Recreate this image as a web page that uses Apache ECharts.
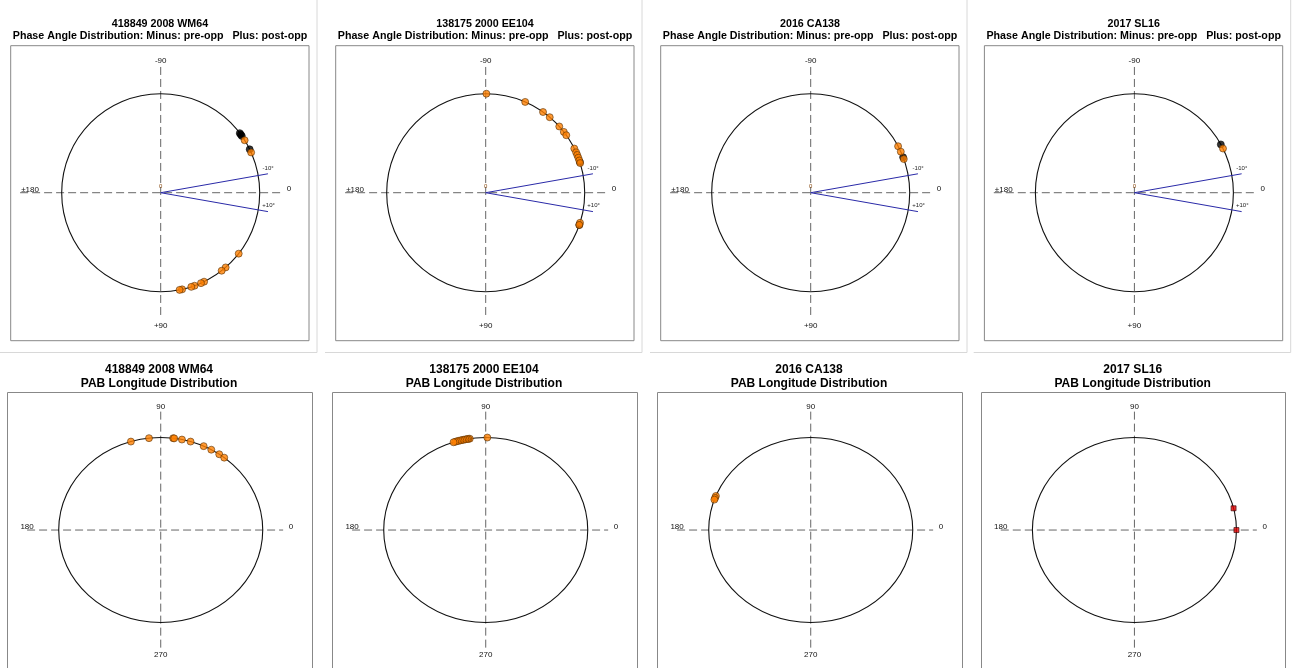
<!DOCTYPE html>
<html>
<head>
<meta charset="utf-8">
<script src="https://cdn.jsdelivr.net/npm/echarts@6/dist/echarts.min.js"></script>
<style>
  html, body { margin: 0; padding: 0; background: #fff; }
  #chart { width: 1301px; height: 668px; }
</style>
</head>
<body>
<div id="chart"></div>
<script>
// Objects shown, one column each
const objects = ['418849 2008 WM64', '138175 2000 EE104', '2016 CA138', '2017 SL16'];

// Phase angle (deg): minus = pre-opposition, plus = post-opposition
const phaseBlack_WM64  = [-35, -36, -37, -26];
const phaseOrange_WM64 = [-32, -24, 38, 49, 52, 64, 66, 70, 72, 77.5, 79];
const phaseBlack_EE104  = [-18, 19];
const phaseOrange_EE104 = [-89.6, -66.5, -54.6, -49.7, -42, -37.9, -35.5, -26.5, -24.1, -22.4, -20.7, -19, -17.4, 17.7, 19];
const phaseBlack_CA138  = [-21];
const phaseOrange_CA138 = [-28, -24.5, -19.9];
const phaseBlack_SL16  = [-29.2];
const phaseOrange_SL16 = [-26.5];

// PAB longitude (deg)
const pabOrange_WM64  = [107, 96.6, 83, 82.4, 78, 73, 65.1, 60.3, 55, 51.5];
const pabOrange_EE104 = [89.1, 99, 99.8, 100.6, 101.5, 102.5, 103.4, 104.4, 105.4, 106.4, 107.4, 108.4];
const pabOrange_CA138 = [158.4, 159.7, 160.8];
const pabRed_SL16     = [13.6, 0];

// Axis tick labels
const phaseTicks = { top: '-90', bottom: '+90', left: '\u00b1180', right: '0' };
const pabTicks   = { top: '90', bottom: '270', left: '180', right: '0' };

const phaseBlack  = [phaseBlack_WM64, phaseBlack_EE104, phaseBlack_CA138, phaseBlack_SL16];
const phaseOrange = [phaseOrange_WM64, phaseOrange_EE104, phaseOrange_CA138, phaseOrange_SL16];
const pabOrange   = [pabOrange_WM64, pabOrange_EE104, pabOrange_CA138, []];
const pabRed      = [[], [], [], pabRed_SL16];

const D2R = Math.PI / 180;
// Phase: 0 on the right, positive angles go clockwise (downwards)
const phaseXY = a => [Math.cos(a * D2R), -Math.sin(a * D2R)];
// PAB longitude: 0 on the right, counter-clockwise
const pabXY = a => [Math.cos(a * D2R), Math.sin(a * D2R)];

const FONT = '"Liberation Sans", Arial, sans-serif';
const colX = [0, 325, 650, 973.7];

const grids = [], xAxes = [], yAxes = [], series = [], graphics = [];

function txt(api, x, y, s, size, color, align) {
  const p = api.coord([x, y]);
  return {
    type: 'text', x: p[0], y: p[1],
    style: { text: s, font: size + 'px ' + FONT, fill: color, align: align || 'center', verticalAlign: 'middle' }
  };
}
function seg(api, a, b, stroke, dash, w) {
  const p = api.coord(a), q = api.coord(b);
  return {
    type: 'line', shape: { x1: p[0], y1: p[1], x2: q[0], y2: q[1] },
    style: { stroke: stroke, lineWidth: w || 1, lineDash: dash || null }
  };
}

function guideRenderer(kind) {
  return function (params, api) {
    const c = api.coord([0, 0]);
    const rx = api.size([1, 0])[0], ry = api.size([0, 1])[1];
    const kids = [];
    const dash = [8, 4];
    if (kind === 'phase') {
      kids.push(seg(api, [-1.42, 0], [1.24, 0], '#666', dash));
      kids.push(seg(api, [0, 1.27], [0, -1.27], '#666', dash));
    } else {
      // open-bottomed frame: the plot box continues below the page edge
      const cs = params.coordSys;
      const L = Math.round(cs.x) + 0.5, R = Math.round(cs.x + cs.width) + 0.5, T = Math.round(cs.y) + 0.5;
      kids.push({ type: 'polyline', shape: { points: [[L, cs.y + cs.height + 4], [L, T], [R, T], [R, cs.y + cs.height + 4]] },
                  style: { stroke: '#888', lineWidth: 1, fill: null } });
      kids.push(seg(api, [-1.31, 0], [1.20, 0], '#666', dash));
      kids.push(seg(api, [0, 1.28], [0, -1.28], '#666', dash));
    }
    kids.push({ type: 'ellipse', shape: { cx: c[0], cy: c[1], rx: rx, ry: ry },
                style: { fill: null, stroke: '#111', lineWidth: 1.1 } });
    if (kind === 'phase') {
      const L = 1.1, e = 10 * D2R;
      kids.push(seg(api, [0, 0], [L * Math.cos(e), L * Math.sin(e)], '#2a2aa8', null, 1));
      kids.push(seg(api, [0, 0], [L * Math.cos(e), -L * Math.sin(e)], '#2a2aa8', null, 1));
      kids.push(txt(api, 1.085, 0.246, '-10\u00b0', 6, '#222'));
      kids.push(txt(api, 1.09, -0.13, '+10\u00b0', 6, '#222'));
      kids.push(txt(api, 0, 0.067, '0', 6, '#8a4a10'));
      kids.push(txt(api, 0, 1.33, phaseTicks.top, 8, '#111'));
      kids.push(txt(api, 0, -1.346, phaseTicks.bottom, 8, '#111'));
      kids.push(txt(api, -1.32, 0.034, phaseTicks.left, 8, '#111'));
      kids.push(txt(api, 1.296, 0.037, phaseTicks.right, 8, '#111'));
    } else {
      kids.push(txt(api, 0, 1.333, pabTicks.top, 8, '#111'));
      kids.push(txt(api, 0, -1.351, pabTicks.bottom, 8, '#111'));
      kids.push(txt(api, -1.31, 0.036, pabTicks.left, 8, '#111'));
      kids.push(txt(api, 1.277, 0.03, pabTicks.right, 8, '#111'));
    }
    return { type: 'group', children: kids };
  };
}

const orangeStyle = { color: '#ff8000', borderColor: '#4a2800', borderWidth: 0.7 };
const blackStyle  = { color: '#000', borderColor: '#000', borderWidth: 0.7 };
const redStyle    = { color: '#e00000', borderColor: '#300', borderWidth: 0.8 };

objects.forEach((name, i) => {
  const x0 = colX[i];
  // top row: phase angle
  let g = grids.length;
  grids.push({ left: x0 + 10.7, top: 45.7, width: 298.3, height: 295, show: true,
               borderColor: '#888', borderWidth: 1, backgroundColor: 'transparent' });
  xAxes.push({ type: 'value', gridIndex: g, min: -1.515, max: 1.498, show: false });
  yAxes.push({ type: 'value', gridIndex: g, min: -1.495, max: 1.485, show: false });
  series.push({ type: 'custom', xAxisIndex: g, yAxisIndex: g, data: [[0, 0]], silent: true,
                renderItem: guideRenderer('phase'), z: 1 });
  series.push({ type: 'scatter', xAxisIndex: g, yAxisIndex: g, symbolSize: 7, z: 2, silent: true,
                itemStyle: blackStyle, data: phaseBlack[i].map(phaseXY) });
  series.push({ type: 'scatter', xAxisIndex: g, yAxisIndex: g, symbolSize: 7, z: 3, silent: true,
                itemStyle: orangeStyle, data: phaseOrange[i].map(phaseXY) });

  // bottom row: PAB longitude
  g = grids.length;
  grids.push({ left: x0 + 7.3, top: 392.3, width: 304.4, height: 275.7, show: false });
  xAxes.push({ type: 'value', gridIndex: g, min: -1.504, max: 1.480, show: false });
  yAxes.push({ type: 'value', gridIndex: g, min: -1.4915, max: 1.489, show: false });
  series.push({ type: 'custom', xAxisIndex: g, yAxisIndex: g, data: [[0, 0]], silent: true,
                renderItem: guideRenderer('pab'), z: 1 });
  series.push({ type: 'scatter', xAxisIndex: g, yAxisIndex: g, symbolSize: 7, z: 3, silent: true,
                itemStyle: orangeStyle, data: pabOrange[i].map(pabXY) });
  series.push({ type: 'scatter', xAxisIndex: g, yAxisIndex: g, symbol: 'rect', symbolSize: 5, z: 3, silent: true,
                itemStyle: redStyle, data: pabRed[i].map(pabXY) });

  // titles
  const cx = x0 + 160;
  graphics.push({ type: 'text', x: cx, y: 24, style: { text: name, font: 'bold 10.7px ' + FONT, fill: '#000', align: 'center', verticalAlign: 'middle' } });
  graphics.push({ type: 'text', x: cx, y: 36, style: { text: 'Phase Angle Distribution: Minus: pre-opp   Plus: post-opp', font: 'bold 10.7px ' + FONT, fill: '#000', align: 'center', verticalAlign: 'middle' } });
  graphics.push({ type: 'text', x: x0 + 159, y: 370, style: { text: name, font: 'bold 12px ' + FONT, fill: '#000', align: 'center', verticalAlign: 'middle' } });
  graphics.push({ type: 'text', x: x0 + 159, y: 383.5, style: { text: 'PAB Longitude Distribution', font: 'bold 12px ' + FONT, fill: '#000', align: 'center', verticalAlign: 'middle' } });

  // light frame round each top-row figure
  const rx = x0 + 317;
  graphics.push({ type: 'line', shape: { x1: rx, y1: 0, x2: rx, y2: 352.5 }, style: { stroke: '#d8d8d8', lineWidth: 1 } });
  graphics.push({ type: 'line', shape: { x1: x0, y1: 352.5, x2: rx, y2: 352.5 }, style: { stroke: '#d8d8d8', lineWidth: 1 } });
});

const chart = echarts.init(document.getElementById('chart'), null, { renderer: 'canvas' });
chart.setOption({
  animation: false,
  backgroundColor: '#fff',
  grid: grids,
  xAxis: xAxes,
  yAxis: yAxes,
  series: series,
  graphic: graphics
});
</script>
</body>
</html>
